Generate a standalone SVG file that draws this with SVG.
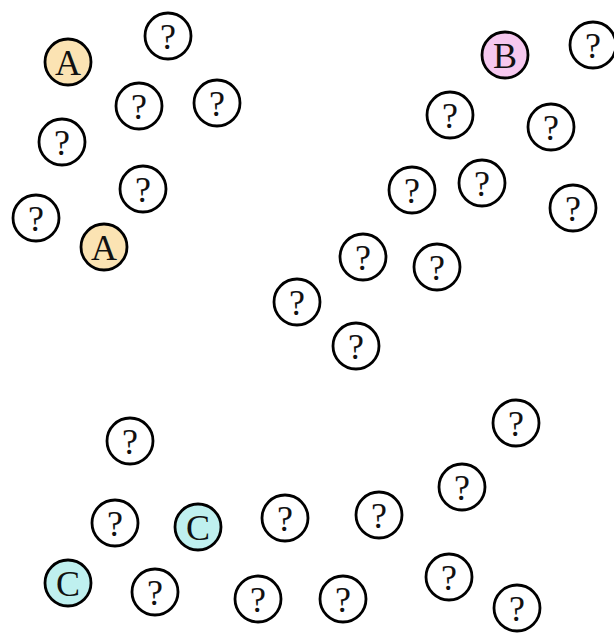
<svg xmlns="http://www.w3.org/2000/svg" width="614" height="638" viewBox="0 0 614 638">
<style>
circle{stroke:#000;stroke-width:2.8;fill:#fff}
.a circle{fill:#fbe3b3}
.b circle{fill:#f6c8ef}
.c circle{fill:#bff0ef}
text{font-family:"Liberation Serif","DejaVu Serif",serif;font-size:36px;text-anchor:middle;fill:#111}
</style>
<g id="connectors"></g>
<g id="nA1" class="a"><circle cx="68" cy="62" r="23"/><text x="68" y="75">A</text></g>
<g id="n1"><circle cx="168" cy="36" r="23"/><text x="168" y="49">?</text></g>
<g id="n2"><circle cx="139" cy="106" r="23"/><text x="139" y="119">?</text></g>
<g id="n3"><circle cx="217" cy="103" r="23"/><text x="217" y="116">?</text></g>
<g id="n4"><circle cx="62" cy="142" r="23"/><text x="62" y="155">?</text></g>
<g id="n5"><circle cx="143" cy="189" r="23"/><text x="143" y="202">?</text></g>
<g id="n6"><circle cx="36" cy="218" r="23"/><text x="36" y="231">?</text></g>
<g id="nA2" class="a"><circle cx="104" cy="247" r="23"/><text x="104" y="260">A</text></g>
<g id="nB" class="b"><circle cx="505" cy="55" r="23"/><text x="505" y="68">B</text></g>
<g id="n7"><circle cx="593" cy="45" r="23"/><text x="593" y="58">?</text></g>
<g id="n8"><circle cx="450" cy="115" r="23"/><text x="450" y="128">?</text></g>
<g id="n9"><circle cx="551" cy="127" r="23"/><text x="551" y="140">?</text></g>
<g id="n10"><circle cx="412" cy="190" r="23"/><text x="412" y="203">?</text></g>
<g id="n11"><circle cx="482" cy="183" r="23"/><text x="482" y="196">?</text></g>
<g id="n12"><circle cx="573" cy="208" r="23"/><text x="573" y="221">?</text></g>
<g id="n13"><circle cx="363" cy="257" r="23"/><text x="363" y="270">?</text></g>
<g id="n14"><circle cx="437" cy="267" r="23"/><text x="437" y="280">?</text></g>
<g id="n15"><circle cx="297" cy="302" r="23"/><text x="297" y="315">?</text></g>
<g id="n16"><circle cx="356" cy="346" r="23"/><text x="356" y="359">?</text></g>
<g id="n17"><circle cx="130" cy="441" r="23"/><text x="130" y="454">?</text></g>
<g id="n18"><circle cx="115" cy="523" r="23"/><text x="115" y="536">?</text></g>
<g id="nC1" class="c"><circle cx="198" cy="527" r="23"/><text x="198" y="540">C</text></g>
<g id="n19"><circle cx="285" cy="518" r="23"/><text x="285" y="531">?</text></g>
<g id="nC2" class="c"><circle cx="68" cy="583" r="23"/><text x="68" y="596">C</text></g>
<g id="n20"><circle cx="155" cy="592" r="23"/><text x="155" y="605">?</text></g>
<g id="n21"><circle cx="258" cy="599" r="23"/><text x="258" y="612">?</text></g>
<g id="n22"><circle cx="516" cy="423" r="23"/><text x="516" y="436">?</text></g>
<g id="n23"><circle cx="462" cy="487" r="23"/><text x="462" y="500">?</text></g>
<g id="n24"><circle cx="379" cy="515" r="23"/><text x="379" y="528">?</text></g>
<g id="n25"><circle cx="343" cy="599" r="23"/><text x="343" y="612">?</text></g>
<g id="n26"><circle cx="449" cy="577" r="23"/><text x="449" y="590">?</text></g>
<g id="n27"><circle cx="517" cy="608" r="23"/><text x="517" y="621">?</text></g>
</svg>
